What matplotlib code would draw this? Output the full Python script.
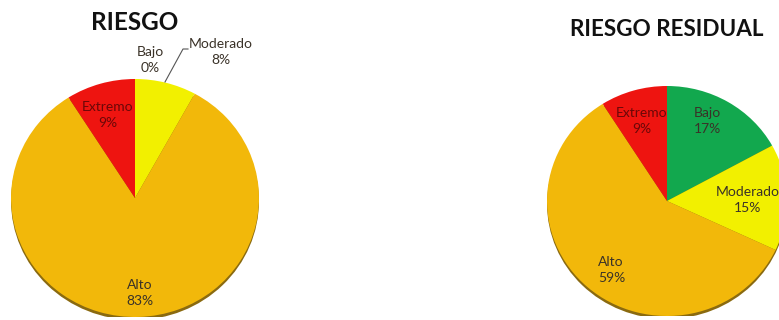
import matplotlib
matplotlib.use("Agg")
import matplotlib.pyplot as plt
from matplotlib.patches import Ellipse

categories = ["Bajo", "Moderado", "Alto", "Extremo"]
riesgo = [0, 8, 83, 9]
residual = [17, 15, 59, 9]
colors = ["#12A84E", "#F2F000", "#F2B80A", "#EE1410"]

W, H = 779, 320
fig = plt.figure(figsize=(W / 100, H / 100), dpi=100)
fig.patch.set_facecolor("white")

FONT = ["Lato", "DejaVu Sans"]
TXT = "#3a3228"


class PieBox:
    def __init__(self, cx, cy, rx, ry):
        self.cx, self.cy, self.rx, self.ry = cx, cy, rx, ry
        self.ax = fig.add_axes([(cx - rx) / W, (H - cy - ry) / H, 2 * rx / W, 2 * ry / H])

    def p(self, x, y):
        return ((x - self.cx) / self.rx, (self.cy - y) / self.ry)


def draw_pie(box, values):
    ax = box.ax
    ax.add_patch(Ellipse((0, -0.025), 2.0, 2.0, facecolor="#8a6a10", edgecolor="none", zorder=0))
    wedges, _ = ax.pie(values, colors=colors, startangle=90, counterclock=False,
                       radius=1.0, wedgeprops=dict(linewidth=0))
    for w in wedges:
        w.set_zorder(1)
    ax.set_xlim(-1, 1)
    ax.set_ylim(-1, 1)
    ax.set_aspect("auto")
    ax.axis("off")
    return wedges


def lab(box, x, y, name, val, color=TXT, ha="center"):
    X, Y = box.p(x, y)
    box.ax.text(X, Y, f"{name}\n{val}%", ha=ha, va="center", fontsize=10,
                family=FONT, color=color, linespacing=1.38, clip_on=False, zorder=5)


# ---------- Left: RIESGO ----------
L = PieBox(135, 198, 124, 119)
draw_pie(L, riesgo)

fig.text(135 / W, 1 - 22 / H, "RIESGO", ha="center", va="center", fontsize=17.5,
         fontweight="bold", family=FONT, color="#111111")

lab(L, 150, 60, categories[0], riesgo[0])
lab(L, 221, 52, categories[1], riesgo[1])
lab(L, 108, 115, categories[3], riesgo[3], color="#6a0808")
lab(L, 140, 293, categories[2], riesgo[2])

pts = [(188, 49), (183, 49), (165, 82)]
xs, ys = zip(*[L.p(x, y) for x, y in pts])
L.ax.plot(xs, ys, color="#555555", lw=0.8, clip_on=False, zorder=4)

# ---------- Right: RIESGO RESIDUAL ----------
R = PieBox(667, 201, 120, 115)
draw_pie(R, residual)

fig.text(667 / W, 1 - 30 / H, "RIESGO RESIDUAL", ha="center", va="center", fontsize=16.2,
         fontweight="bold", family=FONT, color="#111111")

lab(R, 642, 121, categories[3], residual[3], color="#6a0808")
lab(R, 707, 121, categories[0], residual[0])
lab(R, 748, 200, categories[1], residual[1])
lab(R, 598, 270, categories[2], residual[2], ha="left")

fig.savefig("out.png", dpi=100, facecolor="white")
